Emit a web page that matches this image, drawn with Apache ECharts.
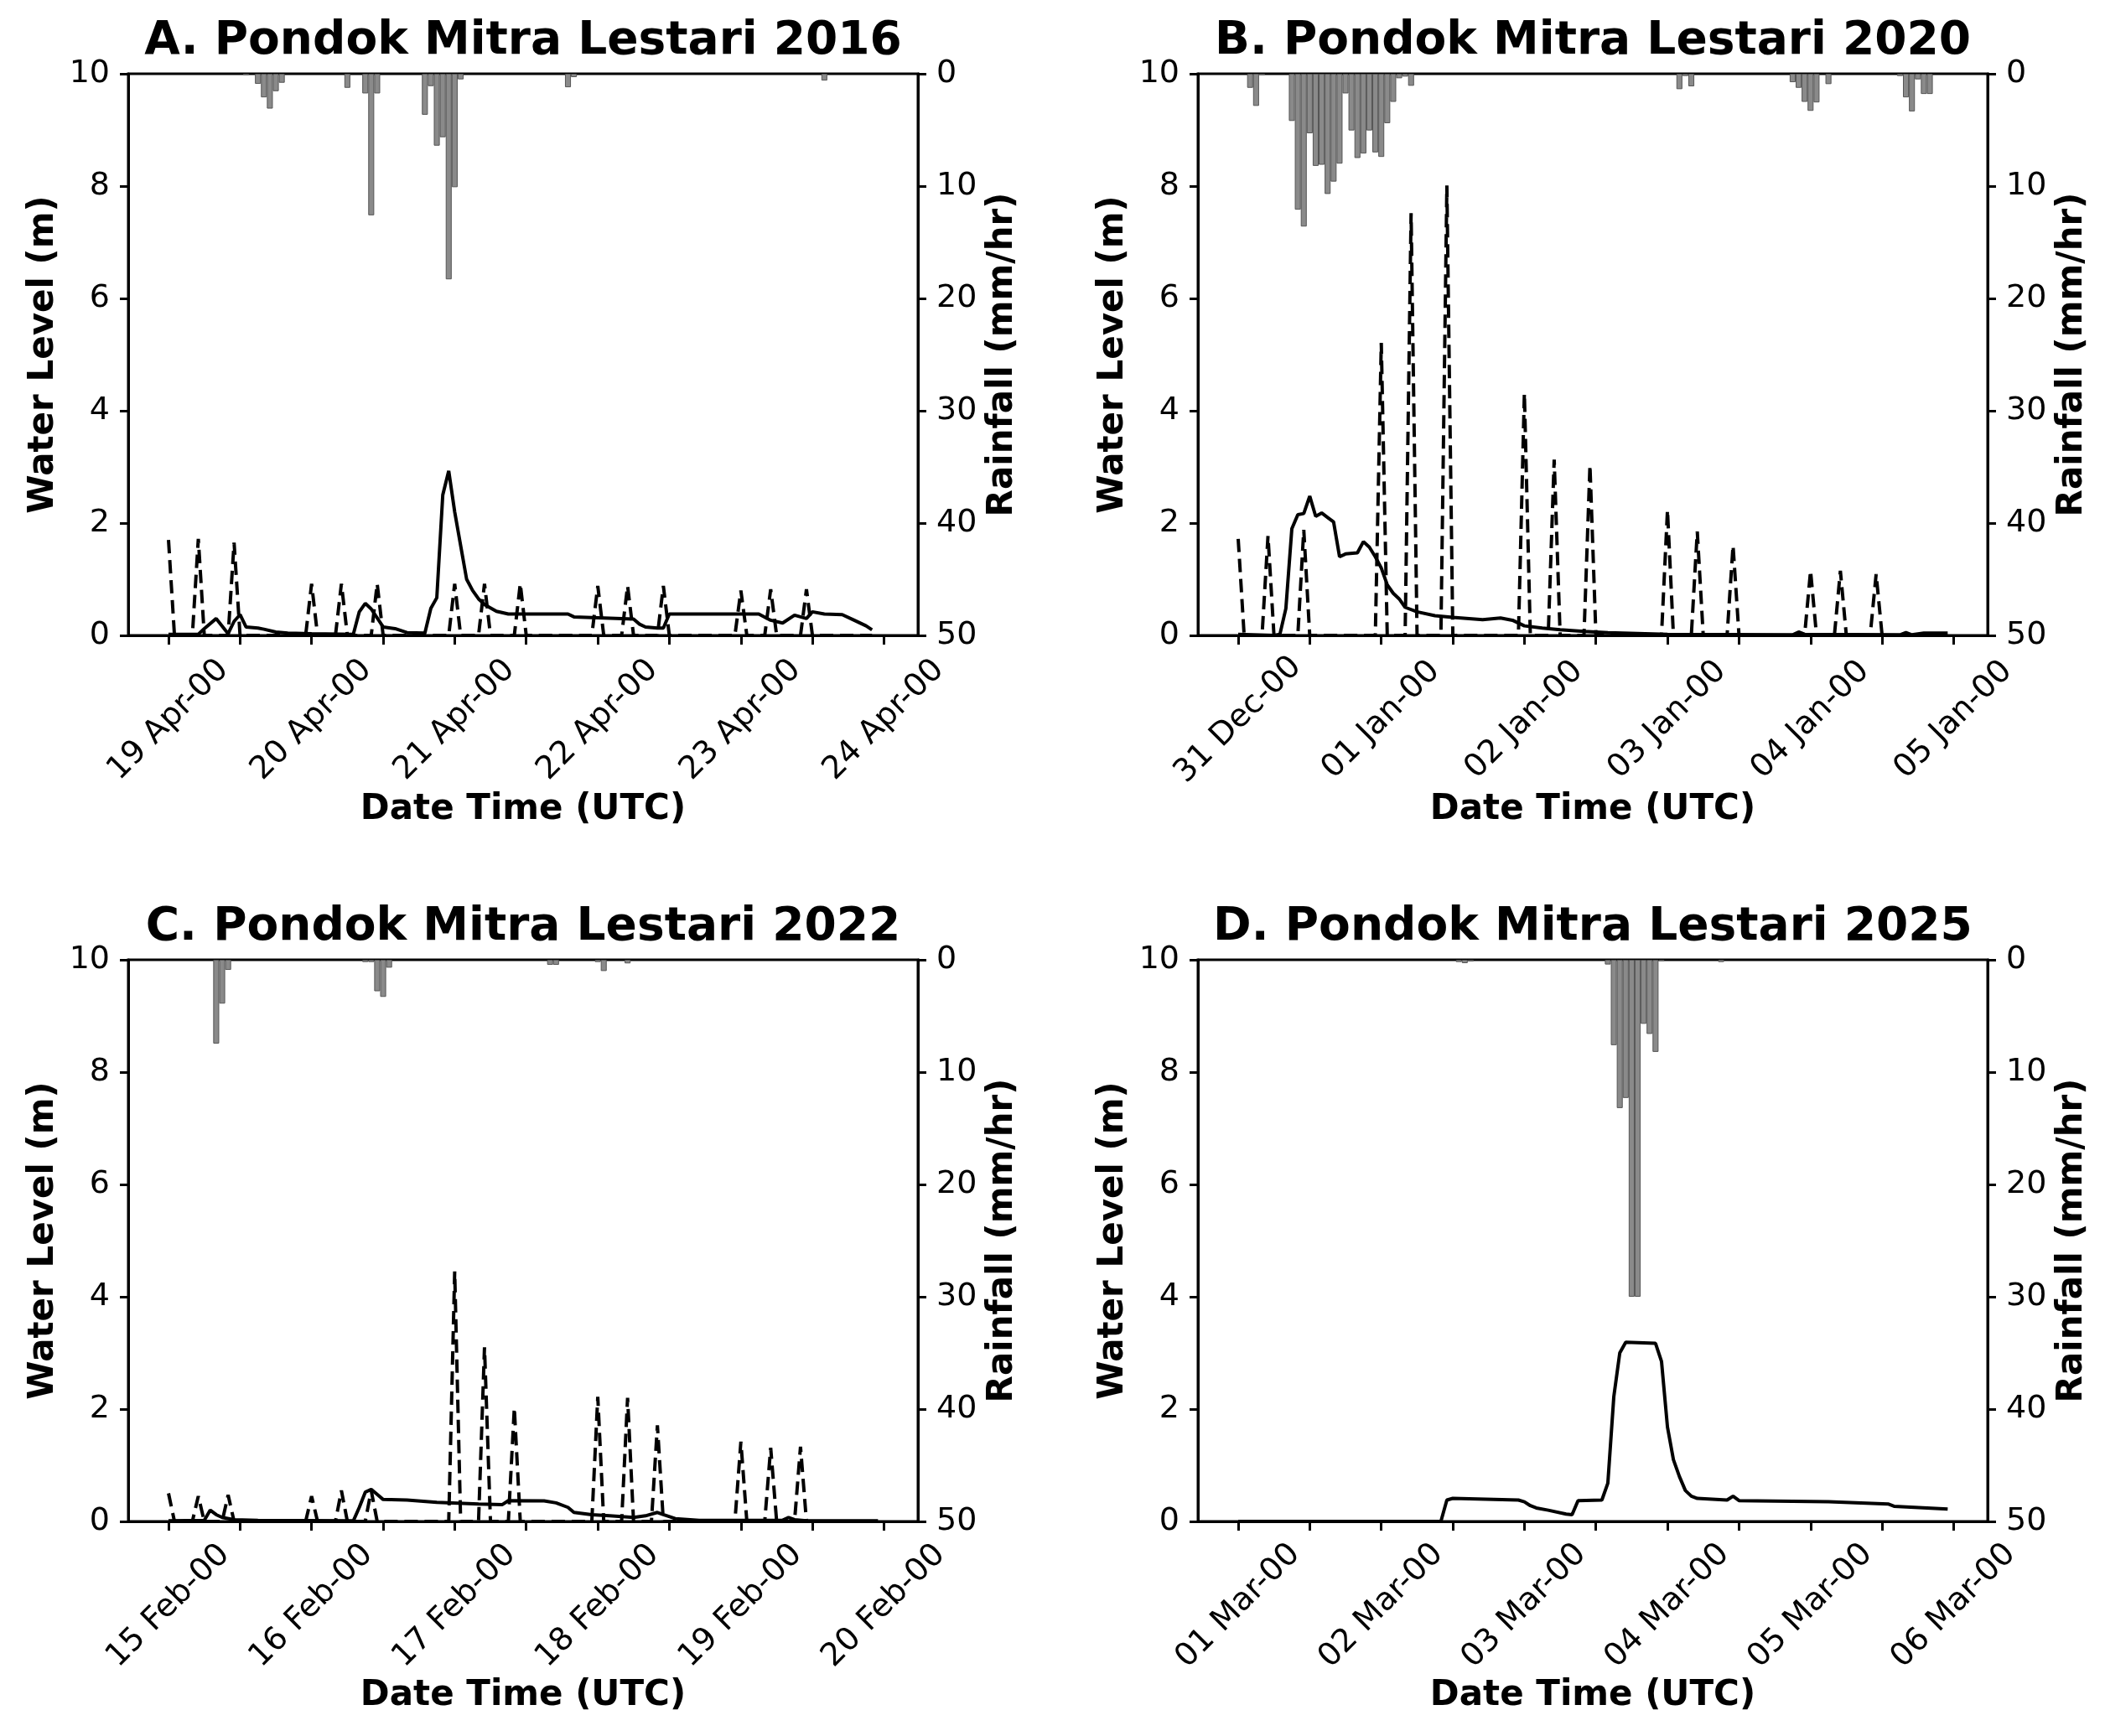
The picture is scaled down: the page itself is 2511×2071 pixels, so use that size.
<!DOCTYPE html>
<html>
<head>
<meta charset="utf-8">
<script src="https://cdn.jsdelivr.net/npm/echarts@6/dist/echarts.min.js"></script>
<style>
  html, body { margin: 0; padding: 0; background: #fff; }
  #chart { width: 2511px; height: 2071px; }
</style>
</head>
<body>
<div id="chart"></div>
<script>
// panel titles and date tick labels (one label per day, 00 UTC)
const titles = [
  'A. Pondok Mitra Lestari 2016',
  'B. Pondok Mitra Lestari 2020',
  'C. Pondok Mitra Lestari 2022',
  'D. Pondok Mitra Lestari 2025'
]
const dayLabelsA = ['19 Apr-00', '20 Apr-00', '21 Apr-00', '22 Apr-00', '23 Apr-00', '24 Apr-00']
const dayLabelsB = ['31 Dec-00', '01 Jan-00', '02 Jan-00', '03 Jan-00', '04 Jan-00', '05 Jan-00']
const dayLabelsC = ['15 Feb-00', '16 Feb-00', '17 Feb-00', '18 Feb-00', '19 Feb-00', '20 Feb-00']
const dayLabelsD = ['01 Mar-00', '02 Mar-00', '03 Mar-00', '04 Mar-00', '05 Mar-00', '06 Mar-00']

// x values are hours since the first day label
// ? water level (solid line), m
const levelHoursA = [0, 5, 6, 8, 10, 11, 12, 13, 15, 16, 18, 20, 24, 31, 32, 33, 34, 36, 38, 40, 43, 44, 45, 46, 47, 48, 49, 50, 51, 52, 53, 55, 57, 67, 68, 78, 79, 80, 82, 83, 84, 99, 101, 103, 105, 106, 107, 108, 110, 113, 115, 117, 118]
const levelA = [0.02, 0.02, 0.12, 0.3, 0.03, 0.25, 0.37, 0.15, 0.13, 0.11, 0.06, 0.04, 0.03, 0.02, 0.42, 0.57, 0.47, 0.15, 0.12, 0.05, 0.04, 0.48, 0.67, 2.5, 2.93, 2.2, 1.6, 1.0, 0.8, 0.65, 0.55, 0.43, 0.38, 0.38, 0.33, 0.29, 0.2, 0.15, 0.13, 0.13, 0.38, 0.38, 0.27, 0.22, 0.36, 0.33, 0.3, 0.42, 0.38, 0.37, 0.27, 0.17, 0.1]

const levelHoursB = [0, 6, 7, 8, 9, 10, 11, 12, 13, 14, 15, 16, 17, 18, 20, 21, 22, 23, 24, 25, 26, 27, 28, 30, 33, 36, 41, 44, 46, 48, 51, 54, 58, 62, 67, 72, 93, 94, 95, 111, 112, 113, 115, 119]
const levelB = [0.02, 0.0, 0.02, 0.48, 1.9, 2.15, 2.17, 2.48, 2.12, 2.18, 2.1, 2.02, 1.4, 1.45, 1.47, 1.67, 1.57, 1.4, 1.2, 0.9, 0.75, 0.65, 0.5, 0.42, 0.35, 0.32, 0.28, 0.31, 0.27, 0.17, 0.13, 0.1, 0.07, 0.05, 0.035, 0.02, 0.01, 0.06, 0.02, 0.01, 0.05, 0.01, 0.04, 0.04]

const levelHoursC = [0, 6, 7, 8, 9, 11, 15, 31, 32, 33, 34, 35, 36, 40, 45, 52, 56, 57, 63, 65, 67, 68, 71, 74, 78, 80, 82, 83, 85, 89, 103, 104, 105, 107, 119]
const levelC = [0.01, 0.02, 0.2, 0.12, 0.07, 0.03, 0.02, 0.01, 0.25, 0.52, 0.57, 0.48, 0.39, 0.38, 0.34, 0.31, 0.3, 0.37, 0.365, 0.33, 0.25, 0.16, 0.12, 0.1, 0.07, 0.1, 0.16, 0.12, 0.05, 0.02, 0.02, 0.07, 0.03, 0.01, 0.01]

const levelHoursD = [0, 34, 35, 36, 47, 48, 49, 50, 52, 55, 56, 57, 61, 62, 63, 64, 65, 70, 71, 72, 73, 74, 75, 76, 77, 82, 83, 84, 99, 109, 110, 119]
const levelD = [0, 0, 0.38, 0.41, 0.38, 0.35, 0.28, 0.24, 0.2, 0.13, 0.12, 0.37, 0.38, 0.68, 2.22, 3.0, 3.19, 3.17, 2.85, 1.68, 1.1, 0.8, 0.55, 0.45, 0.41, 0.38, 0.45, 0.37, 0.35, 0.31, 0.27, 0.22]

// ? dashed line: hourly spikes on a zero baseline, m
const spikeHoursA = [0, 5, 11, 24, 29, 35, 48, 53, 59, 72, 77, 83, 96, 101, 107]
const spikesA = [1.7, 1.72, 1.65, 0.92, 0.92, 0.92, 0.92, 0.92, 0.92, 0.88, 0.88, 0.88, 0.8, 0.82, 0.82]
const spikeHoursB = [0, 5, 11, 24, 29, 35, 48, 53, 59, 72, 77, 83, 96, 101, 107]
const spikesB = [1.72, 1.77, 1.88, 5.21, 7.52, 8.01, 4.31, 3.13, 3.03, 2.23, 1.85, 1.6, 1.15, 1.15, 1.09]
const spikeHoursC = [0, 5, 10, 24, 29, 34, 48, 53, 58, 72, 77, 82, 96, 101, 106]
const spikesC = [0.5, 0.45, 0.47, 0.45, 0.55, 0.55, 4.45, 3.1, 2.02, 2.22, 2.2, 1.71, 1.42, 1.31, 1.33]
const lastHours = [118, 119, 119, 119]

// ? rainfall (bars on the inverted right axis), mm/hr
const rainHoursA = [13, 15, 16, 17, 18, 19, 30, 33, 34, 35, 43, 44, 45, 46, 47, 48, 49, 67, 68, 110]
const rainA = [0.1, 0.9, 2.1, 3.1, 1.55, 0.8, 1.25, 1.75, 12.6, 1.75, 3.65, 1.1, 6.4, 5.65, 18.3, 10.1, 0.5, 1.2, 0.3, 0.6]
const rainHoursB = [2, 3, 4, 9, 10, 11, 12, 13, 14, 15, 16, 17, 18, 19, 20, 21, 22, 23, 24, 25, 26, 27, 28, 29, 74, 75, 76, 93, 94, 95, 96, 97, 99, 111, 112, 113, 114, 115, 116]
const rainB = [1.25, 2.86, 0.1, 4.2, 12.1, 13.6, 5.3, 8.2, 8.1, 10.7, 9.6, 8.0, 1.75, 5.05, 7.5, 7.1, 5.05, 7.0, 7.4, 4.4, 2.5, 0.4, 0.25, 1.07, 1.37, 0.2, 1.12, 0.75, 1.25, 2.5, 3.3, 2.55, 0.92, 0.2, 2.1, 3.35, 0.5, 1.8, 1.8]
const rainHoursC = [8, 9, 10, 33, 34, 35, 36, 37, 64, 65, 72, 73, 77]
const rainC = [7.46, 3.9, 0.9, 0.2, 0.2, 2.8, 3.3, 0.7, 0.45, 0.45, 0.2, 1.0, 0.32]
const rainHoursD = [37, 38, 39, 62, 63, 64, 65, 66, 67, 68, 69, 70, 71, 81]
const rainD = [0.2, 0.3, 0.15, 0.42, 7.6, 13.2, 12.3, 30, 30, 5.7, 6.6, 8.2, 0.1, 0.2]

const levelTicks = [0, 2, 4, 6, 8, 10]
const rainTicks = [0, 10, 20, 30, 40, 50]

const pairs = (xs, ys) => xs.map((x, i) => [x, ys[i]])

// spikes: value at the given hour, zero on the hours either side
function spikeLine(hours, heights, lastHour) {
  const pts = []
  hours.forEach((h, i) => {
    if (h > 0) pts.push([h - 1, 0])
    pts.push([h, heights[i]])
    pts.push([h + 1, 0])
  })
  pts.push([lastHour, 0])
  return pts
}

const panels = [
  { labels: dayLabelsA, level: pairs(levelHoursA, levelA), dashed: spikeLine(spikeHoursA, spikesA, lastHours[0]), rain: pairs(rainHoursA, rainA) },
  { labels: dayLabelsB, level: pairs(levelHoursB, levelB), dashed: spikeLine(spikeHoursB, spikesB, lastHours[1]), rain: pairs(rainHoursB, rainB) },
  { labels: dayLabelsC, level: pairs(levelHoursC, levelC), dashed: spikeLine(spikeHoursC, spikesC, lastHours[2]), rain: pairs(rainHoursC, rainC) },
  { labels: dayLabelsD, level: pairs(levelHoursD, levelD), dashed: null, rain: pairs(rainHoursD, rainD) }
]

const FONT = 'DejaVu Sans'
const boxes = [
  { left: 153, top: 88 },
  { left: 1429, top: 88 },
  { left: 153, top: 1145 },
  { left: 1429, top: 1145 }
]
const W = 942
const H = 670
const lineBlack = { color: '#000', width: 3 }

const option = {
  animation: false,
  backgroundColor: '#fff',
  title: [],
  grid: [],
  xAxis: [],
  yAxis: [],
  series: []
}

panels.forEach((p, i) => {
  const b = boxes[i]
  option.title.push({
    text: titles[i],
    left: b.left + W / 2,
    top: b.top - 68,
    textAlign: 'center',
    padding: 0,
    textStyle: { fontFamily: FONT, fontWeight: 'bold', fontSize: 55, color: '#000', lineHeight: 60 }
  })
  option.grid.push({
    left: b.left, top: b.top, width: W, height: H,
    show: true, borderColor: '#000', borderWidth: 3, backgroundColor: 'transparent'
  })
  option.xAxis.push({
    type: 'value',
    gridIndex: i,
    min: -6.75,
    max: 125.7,
    name: 'Date Time (UTC)',
    nameLocation: 'middle',
    nameGap: 187,
    nameTextStyle: { fontFamily: FONT, fontWeight: 'bold', fontSize: 42, color: '#000' },
    axisLine: { onZero: false, lineStyle: lineBlack },
    axisTick: { show: true, length: 11, lineStyle: lineBlack, customValues: [0, 12, 24, 36, 48, 60, 72, 84, 96, 108, 120] },
    axisLabel: {
      customValues: [0, 24, 48, 72, 96, 120],
      formatter: v => p.labels[Math.round(v / 24)],
      rotate: 45,
      align: 'center',
      verticalAlign: 'middle',
      margin: 101,
      fontFamily: FONT, fontSize: 38, color: '#000'
    },
    splitLine: { show: false }
  })
  option.yAxis.push({
    type: 'value',
    gridIndex: i,
    position: 'left',
    min: levelTicks[0],
    max: levelTicks[levelTicks.length - 1],
    interval: 2,
    name: 'Water Level (m)',
    nameLocation: 'middle',
    nameRotate: 90,
    nameGap: 80,
    nameTextStyle: { fontFamily: FONT, fontWeight: 'bold', fontSize: 42, color: '#000' },
    axisLine: { show: true, onZero: false, lineStyle: lineBlack },
    axisTick: { show: true, length: 10, lineStyle: lineBlack },
    axisLabel: { margin: 22, fontFamily: FONT, fontSize: 38, color: '#000' },
    splitLine: { show: false }
  })
  option.yAxis.push({
    type: 'value',
    gridIndex: i,
    position: 'right',
    inverse: true,
    min: rainTicks[0],
    max: rainTicks[rainTicks.length - 1],
    interval: 10,
    name: 'Rainfall (mm/hr)',
    nameLocation: 'middle',
    nameRotate: 90,
    nameGap: 80,
    nameTextStyle: { fontFamily: FONT, fontWeight: 'bold', fontSize: 42, color: '#000' },
    axisLine: { show: true, onZero: false, lineStyle: lineBlack },
    axisTick: { show: true, length: 10, lineStyle: lineBlack },
    axisLabel: { margin: 22, fontFamily: FONT, fontSize: 38, color: '#000' },
    splitLine: { show: false }
  })

  option.series.push({
    name: 'Rainfall ' + i,
    type: 'bar',
    xAxisIndex: i,
    yAxisIndex: 2 * i + 1,
    data: p.rain,
    barWidth: 7.1,
    itemStyle: { color: '#8a8a8a', borderColor: '#555', borderWidth: 1 },
    z: 2
  })
  if (p.dashed) {
    option.series.push({
      name: 'Dashed ' + i,
      type: 'line',
      xAxisIndex: i,
      yAxisIndex: 2 * i,
      data: p.dashed,
      symbol: 'none',
      lineStyle: { color: '#000', width: 4, type: [16, 8] },
      z: 3
    })
  }
  option.series.push({
    name: 'Water Level ' + i,
    type: 'line',
    xAxisIndex: i,
    yAxisIndex: 2 * i,
    data: p.level,
    symbol: 'none',
    lineStyle: { color: '#000', width: 4 },
    z: 4
  })
})

const chart = echarts.init(document.getElementById('chart'))
chart.setOption(option)
</script>
</body>
</html>
